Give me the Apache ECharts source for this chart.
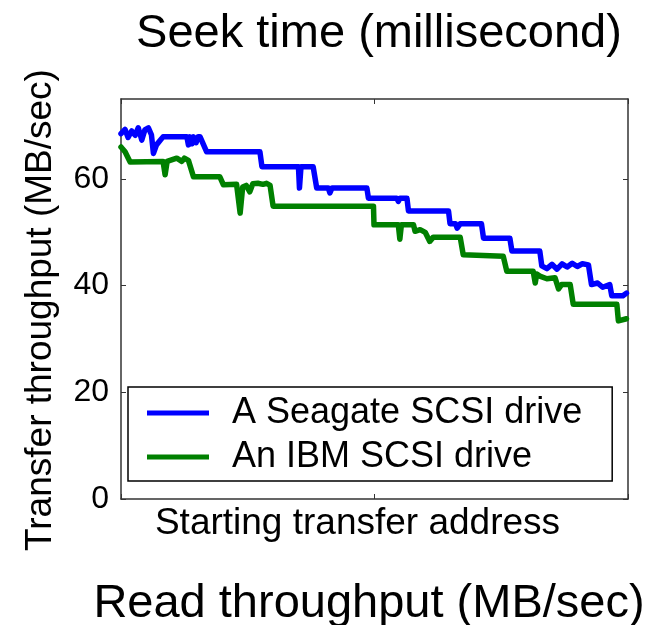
<!DOCTYPE html>
<html>
<head>
<meta charset="utf-8">
<script src="https://cdn.jsdelivr.net/npm/echarts@6/dist/echarts.min.js"></script>
<style>
html,body{margin:0;padding:0;background:#fff;}
#chart{width:662px;height:625px;}
</style>
</head>
<body>
<div id="chart"></div>
<script>
const titleTop = 'Seek time (millisecond)';
const titleBottom = 'Read throughput (MB/sec)';
const xName = 'Starting transfer address';
const yName = 'Transfer throughput (MB/sec)';
const yTicks = [0, 20, 40, 60];
const xTicks = [0, 50, 100];
const seriesNames = ['A Seagate SCSI drive', 'An IBM SCSI drive'];

const seagate = [
  [0, 68.5], [0.8, 69.3], [1.4, 67.8], [2.1, 69.0], [2.8, 68.2], [3.4, 69.6], [4.1, 67.3],
  [4.7, 69.2], [5.4, 69.6], [6.0, 68.3], [6.4, 64.8], [7.0, 66.4], [7.7, 67.2], [8.3, 67.9],
  [13.0, 67.9], [13.3, 66.4], [13.6, 67.9], [14.0, 66.6], [14.3, 67.9], [14.8, 66.8],
  [15.2, 67.9], [15.6, 67.9], [16.9, 65.1], [27.4, 65.1], [27.8, 62.3], [35.0, 62.3],
  [35.2, 58.3], [35.5, 62.3], [37.9, 62.3], [38.6, 58.3], [40.9, 58.3], [41.2, 57.4],
  [41.6, 58.3], [48.5, 58.3], [48.8, 56.4], [54.4, 56.4], [54.7, 55.8], [55.0, 56.4],
  [56.4, 56.4], [56.7, 54.0], [64.6, 54.0], [64.9, 51.6], [66.0, 51.6], [66.3, 50.8],
  [66.9, 51.6], [71.1, 51.6], [71.5, 48.9], [76.7, 48.9], [77.1, 46.5], [82.6, 46.5],
  [83.0, 43.7], [84.0, 43.2], [85.0, 44.0], [86.0, 43.1], [87.0, 44.1], [88.0, 43.5],
  [89.0, 44.2], [90.0, 43.6], [91.0, 44.1], [92.2, 43.9], [92.8, 40.2], [94.0, 40.5],
  [95.0, 39.7], [96.4, 40.2], [96.8, 38.1], [99.0, 38.1], [99.7, 38.6]
];

const ibm = [
  [0, 66.0], [0.8, 65.1], [1.8, 63.2], [8.3, 63.3], [8.7, 60.8], [9.1, 63.3], [11.0, 63.9],
  [12.0, 63.3], [12.5, 63.9], [13.3, 63.5], [13.6, 63.2], [14.3, 60.4], [19.5, 60.4],
  [20.2, 58.9], [22.8, 59.0], [23.5, 53.6], [24.0, 58.5], [24.7, 58.8], [25.4, 57.6],
  [26.0, 59.1], [27.0, 59.2], [28.0, 59.0], [28.7, 59.2], [29.4, 58.8], [30.0, 54.9],
  [49.8, 54.9], [49.9, 51.4], [54.7, 51.4], [55.0, 48.7], [55.3, 51.4], [57.7, 51.4],
  [58.0, 50.2], [59.0, 50.5], [60.0, 50.0], [60.9, 48.3], [61.6, 49.1], [66.9, 49.1],
  [67.5, 45.8], [75.4, 45.5], [76.1, 42.7], [81.3, 42.7], [81.7, 40.5], [82.0, 42.2],
  [82.6, 41.8], [84.0, 41.3], [85.6, 41.5], [86.3, 39.4], [86.9, 40.2], [88.6, 40.2],
  [89.2, 36.5], [97.8, 36.5], [98.1, 33.4], [99.7, 33.8]
];

const chart = echarts.init(document.getElementById('chart'), null, {renderer: 'canvas'});
const font = 'Liberation Sans, Arial, Helvetica, sans-serif';
const frame = '#333';

chart.setOption({
  animation: false,
  backgroundColor: '#fff',
  title: [
    {text: titleTop, left: 374, top: 6, textAlign: 'center',
     textStyle: {fontFamily: font, fontSize: 47, fontWeight: 'normal', color: '#000'}},
    {text: titleBottom, left: 364, top: 576, textAlign: 'center',
     textStyle: {fontFamily: font, fontSize: 47, fontWeight: 'normal', color: '#000'}}
  ],
  grid: {left: 121, right: 34, top: 99, bottom: 126, containLabel: false},
  legend: {
    orient: 'vertical', left: 128, top: 387,
    data: seriesNames,
    icon: 'rect', itemWidth: 62, itemHeight: 5, itemGap: 8,
    borderColor: '#000', borderWidth: 1.5, borderRadius: 0,
    padding: [8, 30, 6, 19],
    textStyle: {fontFamily: font, fontSize: 36, lineHeight: 36, color: '#000', padding: [0, 0, 0, 18]}
  },
  xAxis: [
    {type: 'value', min: 0, max: 100, interval: 50, position: 'bottom',
     name: xName, nameLocation: 'middle', nameGap: 6,
     nameTextStyle: {fontFamily: font, fontSize: 37, color: '#000', verticalAlign: 'top', padding: [0, 34, 0, 0]},
     axisLine: {show: true, onZero: false, lineStyle: {color: frame, width: 1.5}},
     axisTick: {show: true, inside: true, length: 5, lineStyle: {color: frame}},
     axisLabel: {show: false}, splitLine: {show: false}},
    {type: 'value', min: 0, max: 100, interval: 50, position: 'top',
     axisLine: {show: true, onZero: false, lineStyle: {color: frame, width: 1.5}},
     axisTick: {show: true, inside: true, length: 5, lineStyle: {color: frame}},
     axisLabel: {show: false}, splitLine: {show: false}}
  ],
  yAxis: [
    {type: 'value', min: 0, max: 75, position: 'left',
     name: yName, nameLocation: 'middle', nameGap: 62,
     nameTextStyle: {fontFamily: font, fontSize: 37, color: '#000', padding: [0, 22, 0, 0]},
     axisLine: {show: true, onZero: false, lineStyle: {color: frame, width: 1.5}},
     axisTick: {show: true, inside: true, length: 5, lineStyle: {color: frame}, customValues: yTicks},
     axisLabel: {show: true, margin: 12, fontFamily: font, fontSize: 32, color: '#000', customValues: yTicks},
     splitLine: {show: false}},
    {type: 'value', min: 0, max: 75, position: 'right',
     axisLine: {show: true, onZero: false, lineStyle: {color: frame, width: 1.5}},
     axisTick: {show: true, inside: true, length: 5, lineStyle: {color: frame}, customValues: yTicks},
     axisLabel: {show: false}, splitLine: {show: false}}
  ],
  series: [
    {name: seriesNames[0], type: 'line', data: seagate, showSymbol: false, symbol: 'none',
     color: '#0000ff', lineStyle: {color: '#0000ff', width: 5.5, join: 'round', cap: 'round'}, z: 3},
    {name: seriesNames[1], type: 'line', data: ibm, showSymbol: false, symbol: 'none',
     color: '#008000', lineStyle: {color: '#008000', width: 5.5, join: 'round', cap: 'round'}, z: 2}
  ]
});
</script>
</body>
</html>
